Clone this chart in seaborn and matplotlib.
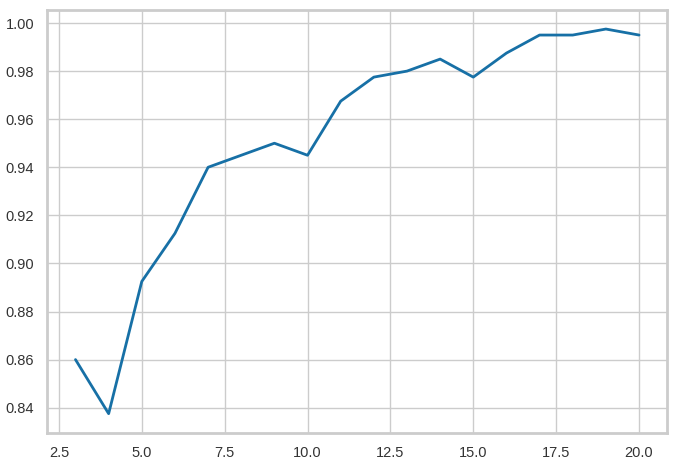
import numpy as np
import pandas as pd
import seaborn as sns
import matplotlib
matplotlib.use('Agg')
import matplotlib.pyplot as plt

k_values = list(range(3, 21))
scores = [0.860, 0.8375, 0.8925, 0.9125, 0.940, 0.945, 0.950, 0.945, 0.9675,
          0.9775, 0.980, 0.985, 0.9775, 0.9875, 0.995, 0.995, 0.9975, 0.995]

df = pd.DataFrame({'k': k_values, 'score': scores})

sns.set_theme(style='whitegrid')
plt.rcParams['font.family'] = ['Liberation Sans', 'DejaVu Sans']

fig, ax = plt.subplots(figsize=(6.76, 4.67), dpi=100)
fig.subplots_adjust(left=0.07, right=0.987, top=0.979, bottom=0.073)

sns.lineplot(data=df, x='k', y='score', color='#1770a6', linewidth=2, ax=ax)

ax.set_xlabel('')
ax.set_ylabel('')
ax.tick_params(labelsize=10.5, colors='#333333')
for s in ax.spines.values():
    s.set_color('#cccccc')
    s.set_linewidth(2)

fig.savefig('out.png', dpi=100)
